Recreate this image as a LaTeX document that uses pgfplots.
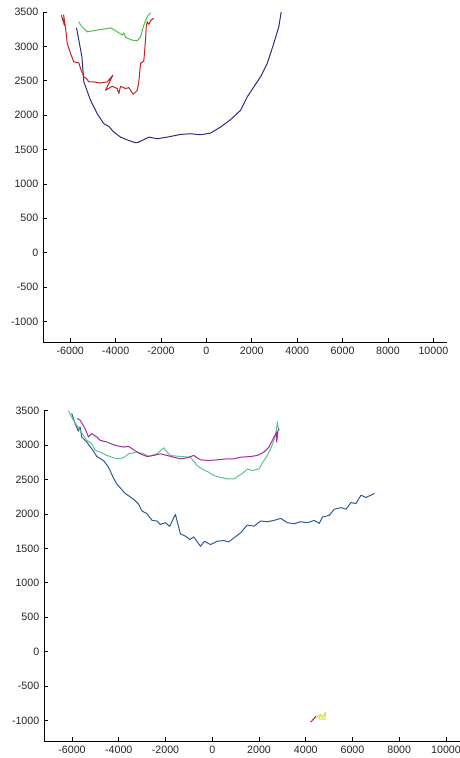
\documentclass[border=0pt]{standalone}
\usepackage{pgfplots}
\pgfplotsset{compat=1.18}
\usepackage{fontspec}
\setmainfont{Liberation Sans}
\definecolor{tnavy}{HTML}{2E2E7E}
\definecolor{tred}{HTML}{C02424}
\definecolor{tgreen}{HTML}{4CC04C}
\definecolor{bblue}{HTML}{2E5C90}
\definecolor{bgreen}{HTML}{5CC48C}
\definecolor{bpurp}{HTML}{A02EA0}
\definecolor{byell}{HTML}{D6E040}
\pgfplotsset{
  myax/.style={
    scale only axis,
    axis x line=bottom, axis y line=left,
    axis line style={-, black, line width=0.6pt},
    xmin=-7200, xmax=10600, ymin=-1300, ymax=3500,
    xtick={-6000,-4000,...,10000},
    ytick={-1000,-500,...,3500},
    tick align=inside, major tick length=3pt,
    tick style={black, line width=0.5pt},
    scaled ticks=false,
    /pgf/number format/1000 sep={},
    /pgf/number format/assume math mode=true,
    ticklabel style={font=\fontsize{8}{9}\selectfont, text=black!85},
    clip=false,
    every axis plot/.append style={line width=0.75pt, line join=round},
  }
}
\begin{document}
\begin{tikzpicture}
\useasboundingbox (0,0) rectangle (345pt,568.5pt);
% ---------- top panel ----------
\begin{axis}[myax, at={(32.25pt,312pt)}, anchor=south west, width=303pt, height=247.5pt]
\addplot[tnavy] coordinates {
(-5722,3271) (-5485,2847) (-5400,2483) (-5106,2215) (-4811,2021) (-4520,1875)
(-4300,1836) (-4079,1753) (-3784,1680) (-3419,1631) (-3123,1598) (-2978,1607)
(-2537,1680) (-2167,1656) (-1727,1680) (-1141,1719) (-700,1729) (-260,1715)
(181,1738) (621,1826) (1062,1934) (1502,2069) (1797,2264) (2088,2410)
(2383,2556) (2678,2751) (2969,3043) (3189,3285) (3295,3500)};
\addplot[tgreen] coordinates {
(-5621,3358) (-5546,3310) (-5251,3212) (-4811,3237) (-4300,3262) (-4225,3271)
(-3930,3212) (-3709,3164) (-3637,3198) (-3564,3129) (-3269,3091) (-3048,3081)
(-2903,3139) (-2758,3310) (-2608,3431) (-2463,3490)};
\addplot[tred] coordinates {
(-6396,3456) (-6250,3300) (-6290,3456) (-6200,3250) (-6132,3043) (-5987,2897)
(-5841,2775) (-5621,2760) (-5546,2678) (-5400,2556) (-5282,2532) (-5181,2483)
(-4960,2483) (-4665,2468) (-4370,2483) (-4123,2580) (-4445,2361) (-4150,2420)
(-3930,2386) (-3859,2313) (-3784,2420) (-3564,2386) (-3419,2401) (-3225,2303)
(-3048,2361) (-2978,2483) (-2903,2751) (-2758,2789) (-2683,3091) (-2652,3285)
(-2608,3358) (-2540,3320) (-2450,3380) (-2388,3393) (-2317,3408)};
\end{axis}
% ---------- bottom panel ----------
\begin{axis}[myax, at={(33pt,12.75pt)}, anchor=south west, width=312pt, height=247.7pt]
\addplot[bblue] coordinates {
(-6014,3461) (-5871,3314) (-5728,3202) (-5657,3265) (-5585,3119) (-5370,3045)
(-5156,2948) (-4941,2835) (-4655,2777) (-4440,2679) (-4226,2522) (-4082,2434)
(-3725,2298) (-3367,2214) (-3152,2141) (-3009,2043) (-2795,2004) (-2580,1907)
(-2365,1897) (-2222,1848) (-2007,1872) (-1822,1819) (-1578,1994) (-1364,1711)
(-1149,1677) (-963,1628) (-791,1667) (-505,1530) (-333,1603) (-76,1555)
(210,1603) (497,1613) (711,1594) (926,1652) (1212,1726) (1498,1838)
(1785,1823) (2071,1897) (2357,1887) (2643,1906) (2929,1936) (3216,1872)
(3502,1858) (3788,1887) (4074,1872) (4360,1906) (4575,1862) (4718,1955)
(5004,1980) (5219,2068) (5505,2092) (5720,2068) (5935,2166) (6149,2151)
(6364,2273) (6579,2239) (6936,2298)};
\addplot[bgreen] coordinates {
(-6157,3500) (-5943,3363) (-5657,3216) (-5370,3070) (-5156,3021) (-5013,2923)
(-4798,2899) (-4512,2850) (-4082,2801) (-3796,2816) (-3581,2874) (-3223,2899)
(-2938,2874) (-2723,2835) (-2365,2874) (-2079,2962) (-1936,2899) (-1793,2850)
(-1364,2835) (-934,2825) (-648,2703) (-362,2640) (-147,2606) (67,2557)
(353,2532) (640,2508) (926,2508) (1140,2557) (1355,2606) (1498,2654)
(1713,2630) (1999,2654) (2214,2777) (2357,2850) (2529,2972) (2715,3143)
(2786,3339) (2815,3265) (2858,3216)};
\addplot[bpurp] coordinates {
(-5771,3388) (-5657,3363) (-5442,3241) (-5299,3119) (-5156,3168) (-4941,3119)
(-4798,3070) (-4512,3045) (-4154,2997) (-3796,2972) (-3581,2982) (-3367,2933)
(-3081,2874) (-2795,2835) (-2508,2850) (-2222,2874) (-1936,2850) (-1650,2825)
(-1364,2801) (-1078,2816) (-791,2850) (-505,2786) (-147,2777) (210,2786)
(640,2801) (926,2801) (1212,2825) (1641,2835) (1928,2850) (2214,2899)
(2429,2972) (2643,3119) (2758,3192) (2758,3045) (2815,3216) (2858,3241)};
\addplot[byell] coordinates {
(4359,-971) (4430,-962) (4645,-913) (4717,-962) (4859,-878) (4816,-987) (4573,-976) (4645,-913)};
\addplot[tred] coordinates {(4216,-1025) (4359,-971) (4430,-940)};
\end{axis}
\end{tikzpicture}
\end{document}
